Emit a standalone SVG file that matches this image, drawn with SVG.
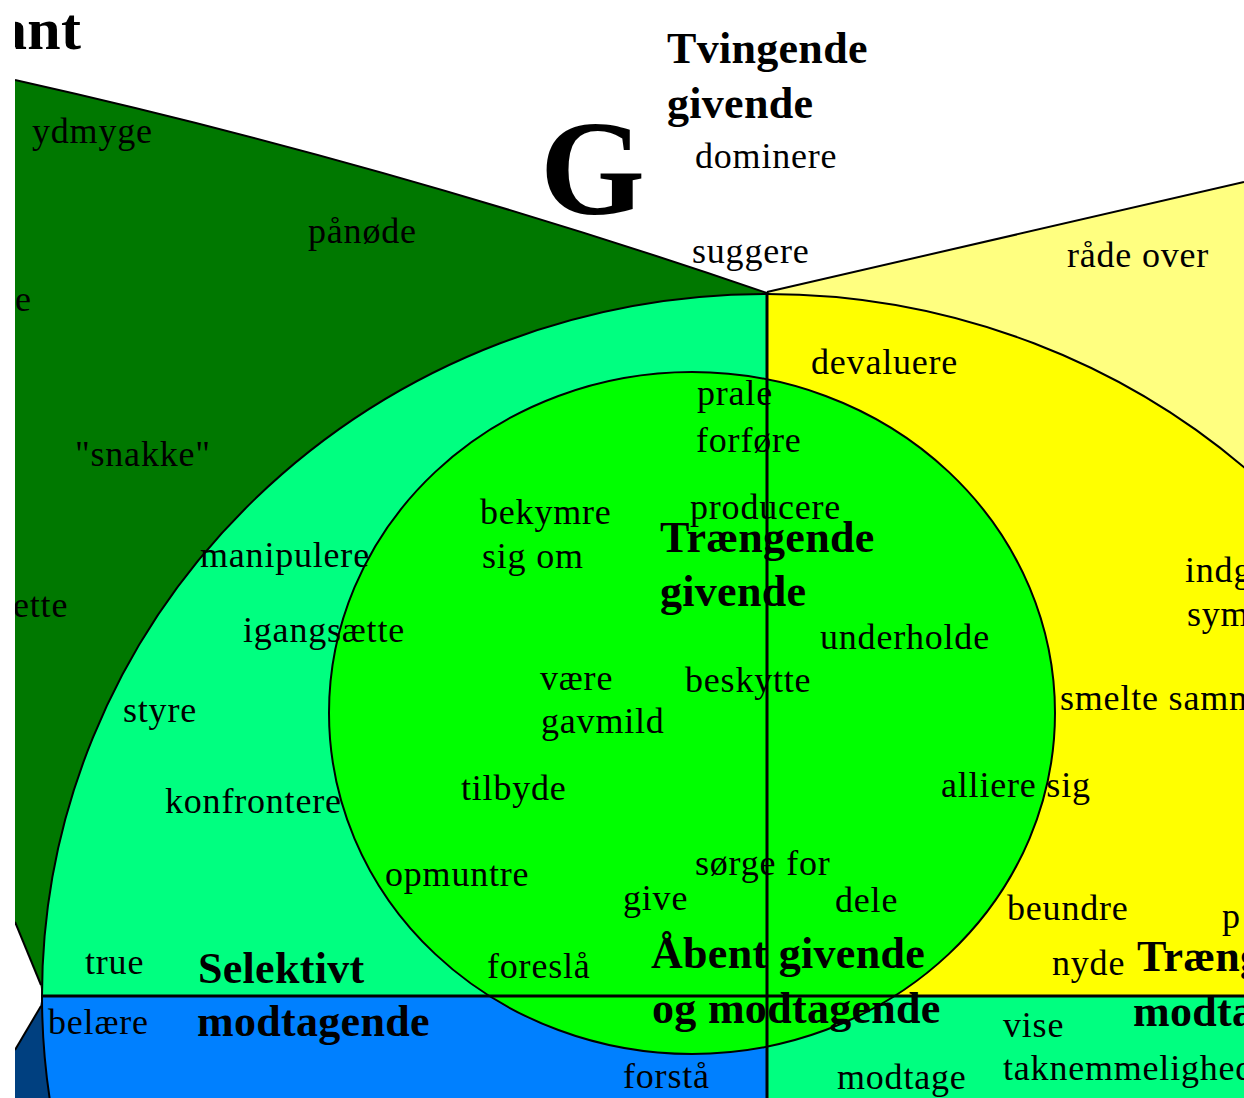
<svg xmlns="http://www.w3.org/2000/svg" width="1244" height="1098" viewBox="0 0 1244 1098">
<style>
.t{font-family:"Liberation Serif","Times New Roman",serif;font-size:36px;letter-spacing:0.8px;fill:#000}
.b{font-family:"Liberation Serif","Times New Roman",serif;font-size:44px;font-weight:bold;letter-spacing:0.3px;fill:#000}
.edge{fill:none;stroke:#000;stroke-width:2}
.axis{fill:none;stroke:#000;stroke-width:3}
</style>
<defs>
<clipPath id="frame"><rect x="15" y="0" width="1229" height="1098"/></clipPath>
</defs>
<rect x="0" y="0" width="1244" height="1098" fill="#fff"/>
<g clip-path="url(#frame)">
<g id="outer-regions">
<path id="light-yellow-wedge" d="M767,292 L1244,182 L1244,1098 L767,1098 Z" fill="#FFFF80"/>
<path id="dark-green-wedge" d="M15,80 Q391,164 767,293 L767,996 L42,996 L40,982 L15,922 Z" fill="#007800"/>
<path id="dark-blue-wedge" d="M15,1050 L40,1007 L42,996 L767,996 L767,1098 L15,1098 Z" fill="#004080"/>
</g>
<g id="big-circle">
<path d="M767,996 L42,996 A725,702 0 0 1 767,294 Z" fill="#00FF80"/>
<path d="M767,996 L767,294 A725,702 0 0 1 1492,996 Z" fill="#FFFF00"/>
<path d="M767,996 L767,1698 A725,702 0 0 1 42,996 Z" fill="#0080FF"/>
<path d="M767,996 L1492,996 A725,702 0 0 1 767,1698 Z" fill="#00FF80"/>
<ellipse cx="767" cy="996" rx="725" ry="702" class="edge"/>
</g>
<g id="inner-circle">
<ellipse cx="692" cy="713" rx="363" ry="341" class="edge" style="fill:#00FF00"/>
</g>
<g id="connectors">
<path d="M15,80 Q391,164 767,293" class="edge"/>
<path d="M767,292 L1244,182" class="edge"/>
<path d="M15,922 L41,985" class="edge"/>
<path d="M41,1006 L15,1050" class="edge"/>
<path d="M767,292 L767,1098" class="axis"/>
<path d="M42,996 L1244,996" class="axis"/>
</g>
<g id="labels">
<text class="b" x="-3" y="49" style="font-size:60px">ant</text>
<text class="b" x="667" y="63">Tvingende</text>
<text class="b" x="667" y="118">givende</text>
<text class="b" x="540" y="214" style="font-size:135px">G</text>
<text class="t" x="695" y="168">dominere</text>
<text class="t" x="692" y="263">suggere</text>
<text class="t" x="32" y="143">ydmyge</text>
<text class="t" x="308" y="243">pånøde</text>
<text class="t" x="15" y="311">e</text>
<text class="t" x="1067" y="267">råde over</text>
<text class="t" x="811" y="374">devaluere</text>
<text class="t" x="697" y="405">prale</text>
<text class="t" x="696" y="452">forføre</text>
<text class="t" x="75" y="466">"snakke"</text>
<text class="t" x="480" y="524">bekymre</text>
<text class="t" x="482" y="568">sig om</text>
<text class="t" x="690" y="519">producere</text>
<text class="b" x="660" y="552">Trængende</text>
<text class="b" x="660" y="606">givende</text>
<text class="t" x="200" y="567">manipulere</text>
<text class="t" x="1185" y="582">indgå</text>
<text class="t" x="1187" y="626">sympati</text>
<text class="t" x="13" y="617">ette</text>
<text class="t" x="243" y="642">igangsætte</text>
<text class="t" x="820" y="649">underholde</text>
<text class="t" x="540" y="690">være</text>
<text class="t" x="685" y="692">beskytte</text>
<text class="t" x="1060" y="710">smelte sammen</text>
<text class="t" x="123" y="722">styre</text>
<text class="t" x="541" y="733">gavmild</text>
<text class="t" x="461" y="800">tilbyde</text>
<text class="t" x="941" y="797">alliere sig</text>
<text class="t" x="165" y="813">konfrontere</text>
<text class="t" x="695" y="875">sørge for</text>
<text class="t" x="385" y="886">opmuntre</text>
<text class="t" x="623" y="910">give</text>
<text class="t" x="835" y="912">dele</text>
<text class="t" x="1007" y="920">beundre</text>
<text class="t" x="1222" y="928">p</text>
<text class="b" x="651" y="968">Åbent givende</text>
<text class="t" x="85" y="974">true</text>
<text class="b" x="198" y="983">Selektivt</text>
<text class="t" x="487" y="978">foreslå</text>
<text class="t" x="1052" y="975">nyde</text>
<text class="b" x="1137" y="971">Trængende</text>
<text class="b" x="652" y="1023">og modtagende</text>
<text class="b" x="1133" y="1026">modtagende</text>
<text class="t" x="48" y="1034">belære</text>
<text class="b" x="197" y="1036">modtagende</text>
<text class="t" x="1003" y="1037">vise</text>
<text class="t" x="1003" y="1080">taknemmelighed</text>
<text class="t" x="623" y="1088">forstå</text>
<text class="t" x="837" y="1089">modtage</text>
</g>
</g>
</svg>
